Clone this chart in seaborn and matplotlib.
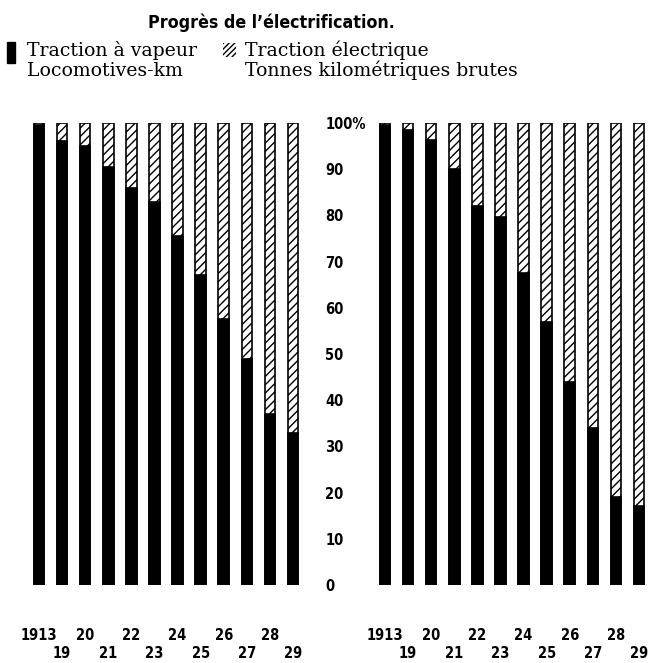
import matplotlib
matplotlib.use("Agg")
import matplotlib.pyplot as plt
from matplotlib.patches import Rectangle
import pandas as pd
import seaborn as sns

years = ["1913", "19", "20", "21", "22", "23", "24", "25", "26", "27", "28", "29"]
# share of steam traction in %, the rest is electric traction
steam_loco_km = [99.5, 96, 95, 90.5, 86, 83, 75.5, 67, 57.5, 49, 37, 33]
steam_tonne_km = [99.5, 98.5, 96.3, 90, 82, 79.6, 67.5, 57, 44, 34, 19, 17]
y_ticks = [0, 10, 20, 30, 40, 50, 60, 70, 80, 90, 100]
y_tick_labels = ["0", "10", "20", "30", "40", "50", "60", "70", "80", "90", "100%"]

sns.set_style("white")
plt.rcParams["hatch.linewidth"] = 1.0
plt.rcParams["hatch.color"] = "black"
plt.rcParams["text.color"] = "black"
plt.rcParams["xtick.color"] = "black"
plt.rcParams["ytick.color"] = "black"

W, H = 658, 663
fig = plt.figure(figsize=(W / 100, H / 100), dpi=100)

bottom = (H - 585) / H
height = (585 - 123) / H
ax1 = fig.add_axes([25 / W, bottom, 282 / W, height])
ax2 = fig.add_axes([371 / W, bottom, 282 / W, height])

tick_font = dict(family="DejaVu Sans", weight="bold", stretch="condensed", size=10.5)

for ax, steam in [(ax1, steam_loco_km), (ax2, steam_tonne_km)]:
    df = pd.DataFrame({"year": years, "steam": steam})
    df["electric"] = 100 - df["steam"]
    df["total"] = df["steam"] + df["electric"]

    # electric part: full bar hatched, steam part drawn over it in black
    sns.barplot(data=df, x="year", y="total", order=years, ax=ax, color="white",
                saturation=1, width=0.46, edgecolor="black", linewidth=1.2,
                hatch="////", errorbar=None)
    sns.barplot(data=df, x="year", y="steam", order=years, ax=ax, color="black",
                saturation=1, width=0.46, edgecolor="black", linewidth=1.2,
                errorbar=None)

    ax.set_xlim(-0.6, 11.6)
    ax.set_ylim(0, 100)
    ax.set_xlabel("")
    ax.set_ylabel("")
    for s in ax.spines.values():
        s.set_visible(False)

    # staggered year labels: even ones on first row, odd ones below
    ax.set_xticks(range(0, 12, 2), years[0::2])
    ax.set_xticks(range(1, 12, 2), years[1::2], minor=True)
    ax.tick_params(axis="x", which="major", length=0, pad=31)
    ax.tick_params(axis="x", which="minor", length=0, pad=44)
    for lbl in ax.get_xticklabels(which="both"):
        lbl.set_fontproperties(tick_font)

ax1.set_yticks([])
ax2.set_yticks(y_ticks, y_tick_labels)
ax2.tick_params(axis="y", length=0, pad=33)
for lbl in ax2.get_yticklabels():
    lbl.set_horizontalalignment("left")
    lbl.set_fontproperties(tick_font)

# title and legend
fig.text(148 / W, 1 - 28 / H, "Progrès de l\u2019électrification.", ha="left",
         va="baseline", family="DejaVu Sans", weight="bold", stretch="condensed",
         size=12.8)
leg_font = dict(family="DejaVu Serif", size=13.6, va="baseline", ha="left")
fig.text(27 / W, 1 - 56 / H, "Traction à vapeur", **leg_font)
fig.text(27 / W, 1 - 76 / H, "Locomotives-km", **leg_font)
fig.text(245 / W, 1 - 56 / H, "Traction électrique", **leg_font)
fig.text(245 / W, 1 - 76 / H, "Tonnes kilométriques brutes", **leg_font)
fig.patches.append(Rectangle((7 / W, 1 - 63 / H), 8 / W, 21 / H, transform=fig.transFigure,
                             facecolor="black", edgecolor="black"))
fig.patches.append(Rectangle((223 / W, 1 - 57 / H), 13 / W, 14 / H, transform=fig.transFigure,
                             facecolor="white", edgecolor="black", linewidth=0,
                             hatch="//////"))

fig.savefig("out.png", dpi=100)
